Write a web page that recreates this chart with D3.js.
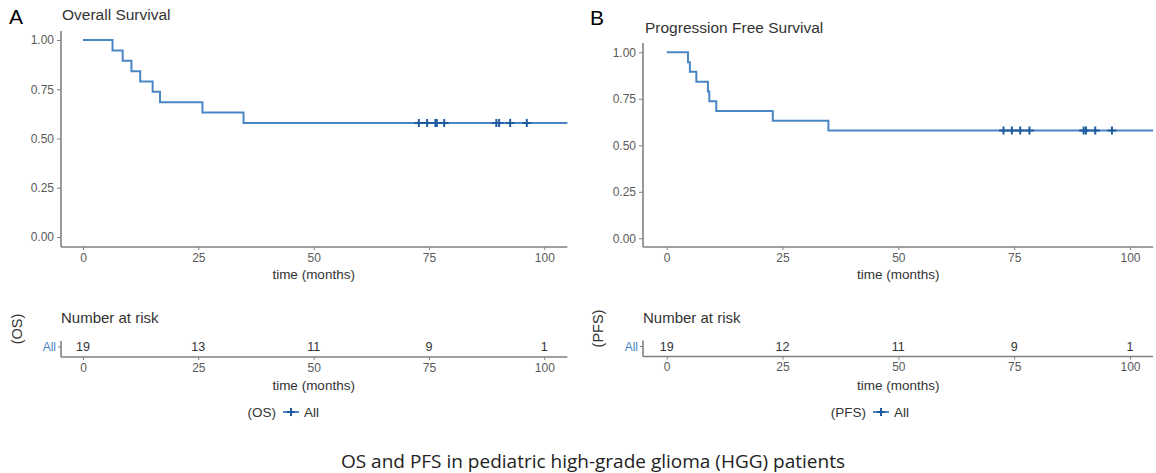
<!DOCTYPE html>
<html>
<head>
<meta charset="utf-8">
<script src="https://cdn.jsdelivr.net/npm/d3@7"></script>
<style>
  body { margin: 0; background: #fff; }
  svg { display: block; font-family: "Liberation Sans", Arial, sans-serif; }
</style>
</head>
<body>
<div id="chart"></div>
<script>
// KM curves (time in months, survival probability)
var xTicks = [0, 25, 50, 75, 100];
var yTicks = [0, 0.25, 0.5, 0.75, 1];

var osTimes = [0, 6.4, 8.6, 10.5, 12.4, 15.1, 16.7, 25.9, 34.8];
var osSurv = [1, 0.947, 0.895, 0.842, 0.789, 0.737, 0.684, 0.632, 0.579];
var osCensor = [72.8, 74.6, 76.4, 76.7, 78.3, 89.6, 90.2, 92.6, 96.2];
var osRisk = [19, 13, 11, 9, 1];

var pfsTimes = [0, 4.6, 5.0, 6.4, 8.9, 9.2, 10.7, 22.9, 34.9];
var pfsSurv = [1, 0.947, 0.895, 0.842, 0.789, 0.737, 0.684, 0.632, 0.579];
var pfsCensor = [72.7, 74.5, 76.3, 78.3, 90.0, 90.5, 92.5, 96.1];
var pfsRisk = [19, 12, 11, 9, 1];

var tMax = 105;
var lineColor = '#4a86c4';
var censorColor = '#1f5b9e';
var axisColor = '#808080';
var tickColor = '#5a5a5a';

var svg = d3
  .select('#chart')
  .append('svg')
  .attr('width', 1156)
  .attr('height', 473);

svg.append('rect').attr('width', 1156).attr('height', 473).attr('fill', '#fff');

function drawPanel(p) {
  var g = svg.append('g');
  var x = d3.scaleLinear().domain([0, tMax]).range([p.x0, p.x0 + tMax * p.kx]);
  var y = d3.scaleLinear().domain([0, 1]).range([p.yBottom, p.yTop]);

  // panel letter + title
  g.append('text').attr('x', p.letterX).attr('y', p.letterY)
    .attr('font-size', 21).attr('fill', '#000').text(p.letter);
  g.append('text').attr('x', p.titleX).attr('y', p.titleY)
    .attr('font-size', 15.5).attr('fill', '#333').text(p.title);

  // y axis
  var ya = g.append('g').attr('transform', 'translate(' + p.axisX + ',0)')
    .call(d3.axisLeft(y).tickValues(yTicks).tickFormat(d3.format('.2f')).tickSize(4).tickPadding(3));
  ya.select('.domain').remove();
  ya.selectAll('line').attr('stroke', axisColor);
  ya.selectAll('text').attr('font-size', 12).attr('fill', tickColor).attr('font-family', null);
  g.append('line').attr('x1', p.axisX).attr('x2', p.axisX)
    .attr('y1', p.yAxisTop).attr('y2', p.axisY)
    .attr('stroke', axisColor).attr('stroke-width', 1.6);

  // x axis
  var xa = g.append('g').attr('transform', 'translate(0,' + p.axisY + ')')
    .call(d3.axisBottom(x).tickValues(xTicks).tickSize(3).tickPadding(3));
  xa.select('.domain').remove();
  xa.selectAll('line').attr('stroke', axisColor);
  xa.selectAll('text').attr('font-size', 12).attr('fill', tickColor).attr('font-family', null);
  g.append('line').attr('x1', p.axisX).attr('x2', x(tMax))
    .attr('y1', p.axisY).attr('y2', p.axisY)
    .attr('stroke', axisColor).attr('stroke-width', 1.6);
  g.append('text').attr('x', x(50)).attr('y', p.axisY + 32)
    .attr('text-anchor', 'middle').attr('font-size', 13.5).attr('fill', '#333')
    .text('time (months)');

  // step curve
  var pts = p.times.map(function(t, i) { return [t, p.surv[i]]; });
  pts.push([tMax, p.surv[p.surv.length - 1]]);
  var line = d3.line()
    .x(function(d) { return x(d[0]); })
    .y(function(d) { return y(d[1]); })
    .curve(d3.curveStepAfter);
  g.append('path').datum(pts).attr('d', line)
    .attr('fill', 'none').attr('stroke', lineColor).attr('stroke-width', 2);

  // censor marks
  var last = p.surv[p.surv.length - 1];
  g.selectAll('.cens').data(p.censor).enter().append('path')
    .attr('class', 'cens')
    .attr('transform', function(d) { return 'translate(' + x(d) + ',' + y(last) + ')'; })
    .attr('d', 'M-4.5,0H4.5M0,-4V4')
    .attr('stroke', censorColor).attr('stroke-width', 2);

  // number at risk table
  var ry = p.riskAxisY;
  g.append('text').attr('x', p.axisX).attr('y', ry - 34)
    .attr('font-size', 15).attr('fill', '#333').text('Number at risk');
  g.append('line').attr('x1', p.axisX).attr('x2', p.axisX)
    .attr('y1', ry - 16).attr('y2', ry)
    .attr('stroke', axisColor).attr('stroke-width', 1.6);
  g.append('line').attr('x1', p.axisX).attr('x2', x(tMax))
    .attr('y1', ry).attr('y2', ry)
    .attr('stroke', axisColor).attr('stroke-width', 1.6);
  g.append('line').attr('x1', p.axisX - 3).attr('x2', p.axisX)
    .attr('y1', ry - 10).attr('y2', ry - 10).attr('stroke', axisColor);
  g.append('text').attr('x', p.axisX - 5).attr('y', ry - 6)
    .attr('text-anchor', 'end').attr('font-size', 12).attr('fill', lineColor).text('All');
  g.selectAll('.risk').data(p.risk).enter().append('text')
    .attr('x', function(d, i) { return x(xTicks[i]); })
    .attr('y', ry - 6)
    .attr('text-anchor', 'middle').attr('font-size', 12.5).attr('fill', '#333')
    .text(function(d) { return d; });
  var ra = g.append('g').attr('transform', 'translate(0,' + ry + ')')
    .call(d3.axisBottom(x).tickValues(xTicks).tickSize(3).tickPadding(3));
  ra.select('.domain').remove();
  ra.selectAll('line').attr('stroke', axisColor);
  ra.selectAll('text').attr('font-size', 12).attr('fill', tickColor).attr('font-family', null);
  g.append('text').attr('x', x(50)).attr('y', ry + 33)
    .attr('text-anchor', 'middle').attr('font-size', 13.5).attr('fill', '#333')
    .text('time (months)');
  g.append('text')
    .attr('transform', 'translate(' + (p.letterX + 13) + ',' + (ry - 28) + ') rotate(-90)')
    .attr('text-anchor', 'middle').attr('font-size', 14.5).attr('fill', '#333')
    .text(p.tag);

  // legend
  var lg = g.append('g').attr('transform', 'translate(' + p.legendX + ',' + p.legendY + ')');
  lg.append('text').attr('x', 0).attr('y', 5).attr('text-anchor', 'end')
    .attr('font-size', 13.5).attr('fill', '#333').text(p.tag);
  lg.append('line').attr('x1', 7).attr('x2', 23).attr('y1', 0).attr('y2', 0)
    .attr('stroke', lineColor).attr('stroke-width', 2);
  lg.append('path').attr('d', 'M11,0H19M15,-4V4')
    .attr('stroke', censorColor).attr('stroke-width', 2);
  lg.append('text').attr('x', 28).attr('y', 5)
    .attr('font-size', 13.5).attr('fill', '#333').text('All');
}

drawPanel({
  letter: 'A', letterX: 9, letterY: 24, title: 'Overall Survival', titleX: 62, titleY: 20,
  x0: 83, kx: 4.613, yBottom: 237, yTop: 40, axisX: 61, axisY: 247, yAxisTop: 31,
  times: osTimes, surv: osSurv, censor: osCensor, risk: osRisk,
  riskAxisY: 357, tag: '(OS)', legendX: 276, legendY: 412
});

drawPanel({
  letter: 'B', letterX: 590, letterY: 25, title: 'Progression Free Survival', titleX: 645, titleY: 33,
  x0: 666.7, kx: 4.633, yBottom: 238.3, yTop: 52.3, axisX: 643, axisY: 247, yAxisTop: 43,
  times: pfsTimes, surv: pfsSurv, censor: pfsCensor, risk: pfsRisk,
  riskAxisY: 356.5, tag: '(PFS)', legendX: 866, legendY: 412
});

svg.append('text').attr('x', 593).attr('y', 468)
  .attr('text-anchor', 'middle').attr('font-size', 19)
  .attr('font-family', '"Open Sans", "Noto Sans", sans-serif').attr('fill', '#222')
  .text('OS and PFS in pediatric high-grade glioma (HGG) patients');
</script>
</body>
</html>
